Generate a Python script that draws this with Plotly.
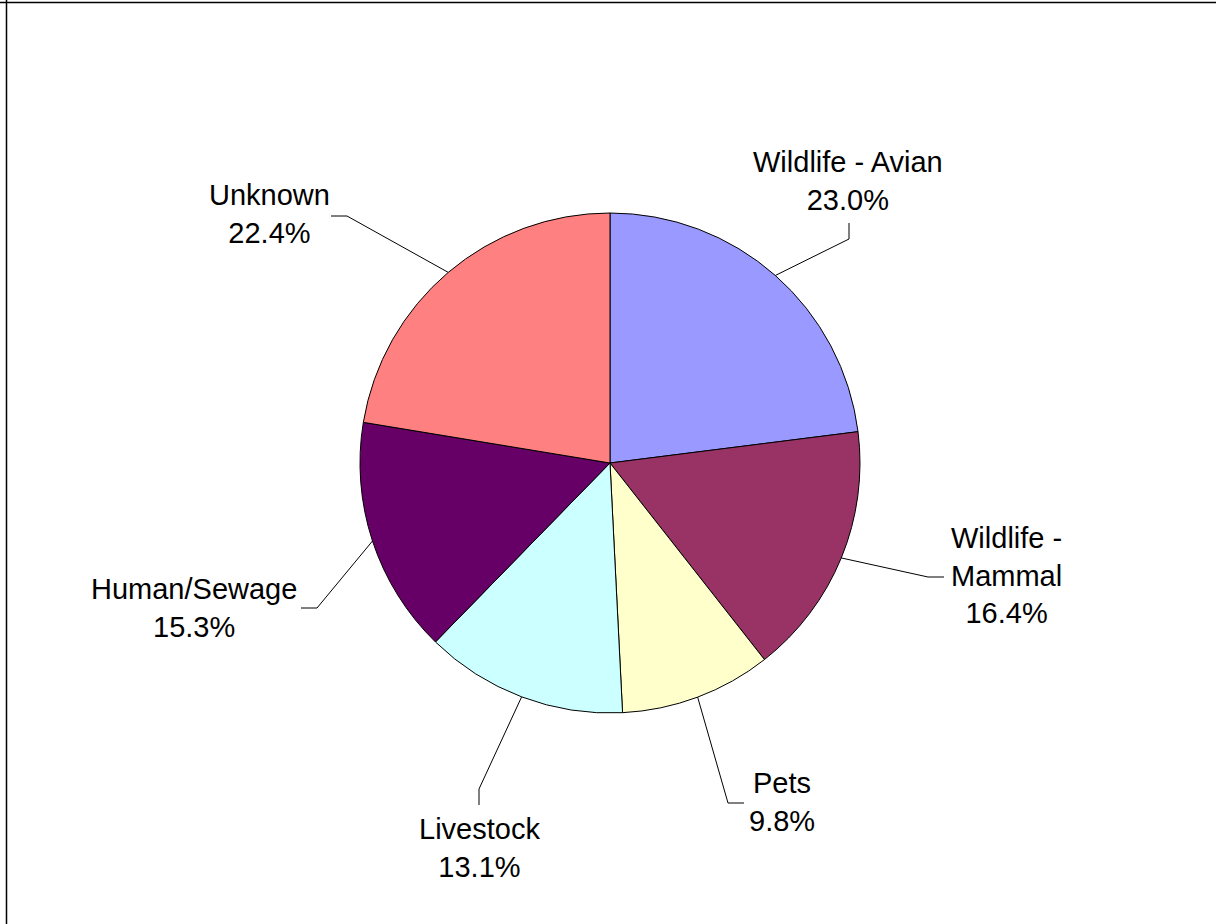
import math
import plotly.graph_objects as go

# Share of sources (percent)
categories = ["Wildlife - Avian", "Wildlife - Mammal", "Pets", "Livestock", "Human/Sewage", "Unknown"]
shares = [23.0, 16.4, 9.8, 13.1, 15.3, 22.4]
colors = ["#9999FF", "#993366", "#FFFFCC", "#CCFFFF", "#660066", "#FF8080"]

# Page geometry (pixels)
W, H = 1216, 924
CX, CY, R = 610, 463, 250

# Label layout: text shown, label centre, leader attach point, stub direction
label_text = {
    "Wildlife - Mammal": "Wildlife -<br>Mammal",
}
label_centre = [(848, 181), (1006, 575), (782, 802), (479, 848), (194, 608), (269, 214)]
label_attach = [(849, 223), (944, 577), (744, 803), (479, 805), (301, 608), (331, 216)]
stub_dir = [(0, 1), (-1, 0), (-1, 0), (0, -1), (1, 0), (1, 0)]
STUB = 16

FONT = "Liberation Sans, Arial, sans-serif"

fig = go.Figure()

fig.add_trace(go.Pie(
    labels=categories,
    values=shares,
    sort=False,
    direction="clockwise",
    rotation=0,
    marker=dict(colors=colors, line=dict(color="black", width=1)),
    textinfo="none",
    hoverinfo="label+percent",
    showlegend=False,
    domain=dict(x=[(CX - R) / W, (CX + R) / W], y=[1 - (CY + R) / H, 1 - (CY - R) / H]),
))

# Labels and leader lines, placed from each slice's mid angle
total = sum(shares)
cum = 0.0
for i, (name, v) in enumerate(zip(categories, shares)):
    mid = (cum + v / 2) / total
    cum += v
    theta = 2 * math.pi * mid
    sx = CX + R * math.sin(theta)
    sy = CY - R * math.cos(theta)
    ax, ay = label_attach[i]
    dx, dy = stub_dir[i]
    ex, ey = ax + STUB * dx, ay + STUB * dy
    fig.add_shape(
        type="path",
        path=f"M {sx:.2f},{sy:.2f} L {ex:.2f},{ey:.2f} L {ax:.2f},{ay:.2f}",
        xref="x", yref="y",
        line=dict(color="black", width=1),
    )
    lx, ly = label_centre[i]
    fig.add_annotation(
        x=lx, y=ly, xref="x", yref="y",
        text=f"{label_text.get(name, name)}<br>{v:.1f}%",
        showarrow=False, xanchor="center", yanchor="middle", align="center",
        font=dict(family=FONT, size=29, color="black"),
    )

# Chart frame edges
fig.add_shape(type="line", x0=0, x1=W, y0=2.5, y1=2.5, xref="x", yref="y",
              line=dict(color="black", width=1.5))
fig.add_shape(type="line", x0=6.5, x1=6.5, y0=0, y1=H, xref="x", yref="y",
              line=dict(color="black", width=1.5))

fig.update_layout(
    width=W, height=H,
    margin=dict(l=0, r=0, t=0, b=0),
    paper_bgcolor="white", plot_bgcolor="white",
    xaxis=dict(range=[0, W], visible=False, domain=[0, 1], fixedrange=True),
    yaxis=dict(range=[H, 0], visible=False, domain=[0, 1], fixedrange=True),
    font=dict(family=FONT),
)

fig.write_html("out.html")
